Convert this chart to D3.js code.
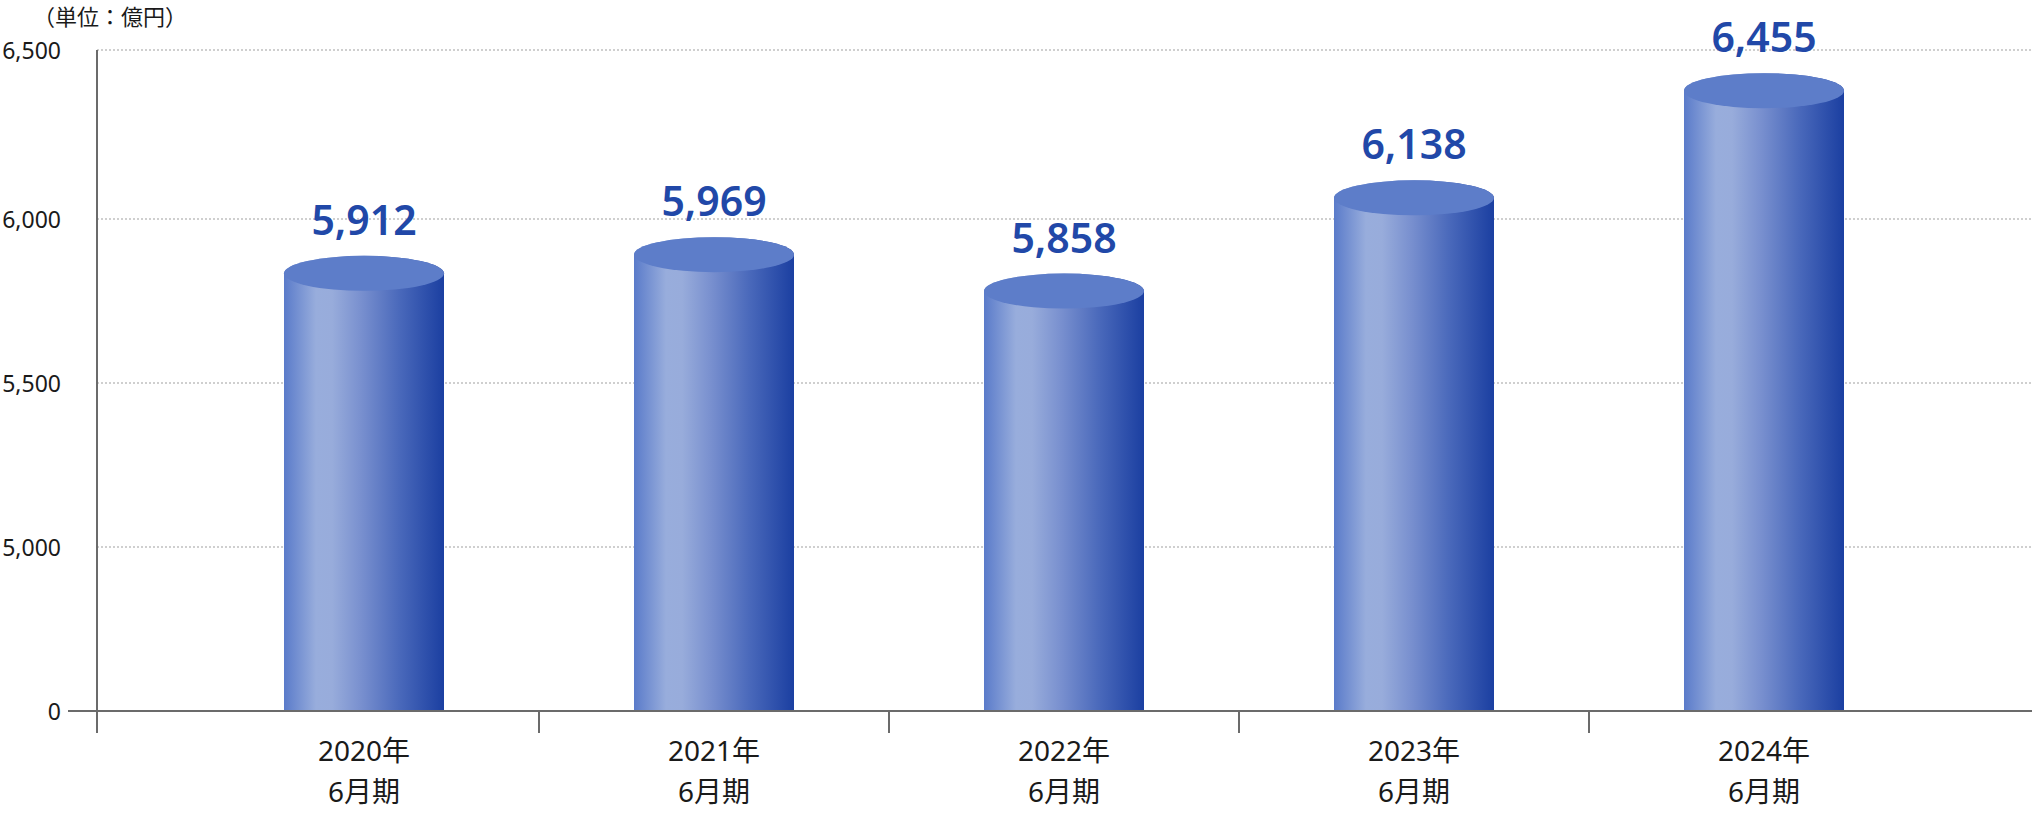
<!DOCTYPE html>
<html>
<head>
<meta charset="utf-8">
<script src="https://cdn.jsdelivr.net/npm/d3@7"></script>
<style>
  html, body { margin: 0; padding: 0; background: #fff; }
  svg { display: block; }
  text { font-family: "Noto Sans", "Noto Sans CJK JP", sans-serif; }
</style>
</head>
<body>
<svg id="chart" width="2032" height="814"></svg>
<script>
// ---- data ----
const categories = ["2020年", "2021年", "2022年", "2023年", "2024年"];
const periodLabel = "6月期";
const values = [5912, 5969, 5858, 6138, 6455];
const yTicks = [0, 5000, 5500, 6000, 6500];
const gridTicks = [5000, 5500, 6000, 6500];
const unitLabel = "（単位：億円）";

// ---- layout ----
const W = 2032, H = 814;
const axisX = 97, baseY = 711, tickLen = 22;
const svg = d3.select("#chart");

// broken axis: 0 baseline, then 5,000 – 6,500
const y = d3.scaleLinear().domain([0, 5000, 6000, 6500]).range([baseY, 547, 219, 50]);
const x = d3.scaleBand().domain(categories).range([189, 1939]).paddingInner(190 / 350).paddingOuter(95 / 350);

// gradient for cylinder side
const defs = svg.append("defs");
const grad = defs.append("linearGradient").attr("id", "side").attr("x1", "0%").attr("x2", "100%").attr("y1", "0%").attr("y2", "0%");
[["0%", "#5a7bca"], ["20%", "#98addc"], ["30%", "#98acdb"], ["48%", "#7990cf"], ["72%", "#4a69bb"], ["100%", "#1b3fa1"]]
  .forEach(([o, c]) => grad.append("stop").attr("offset", o).attr("stop-color", c));

// gridlines
svg.append("g").selectAll("line").data(gridTicks).join("line")
  .attr("x1", axisX).attr("x2", W)
  .attr("y1", d => y(d)).attr("y2", d => y(d))
  .attr("stroke", "#cfcfcf").attr("stroke-width", 2).attr("stroke-dasharray", "2,2");

// y axis labels
const yAxis = d3.axisLeft(y).tickValues(yTicks).tickSize(0).tickPadding(0).tickFormat(d3.format(","));
const gy = svg.append("g").attr("transform", `translate(61,0)`).call(yAxis);
gy.select(".domain").remove();
gy.selectAll("text").attr("font-size", 23).attr("fill", "#1a1a1a").attr("dy", "0.35em")
  .attr("font-family", "'Noto Sans', 'Noto Sans CJK JP', sans-serif");

// bars (cylinders)
const rx = x.bandwidth() / 2, ry = 17.5, capOffset = 8;
const bars = svg.append("g").selectAll("g").data(categories.map((c, i) => ({ c, v: values[i] }))).join("g");
bars.append("rect")
  .attr("x", d => x(d.c)).attr("width", x.bandwidth())
  .attr("y", d => y(d.v) + capOffset + ry)
  .attr("height", d => baseY - (y(d.v) + capOffset + ry))
  .attr("fill", "url(#side)");
bars.append("path")
  .attr("d", d => {
    const cx = x(d.c) + rx, cy = y(d.v) + capOffset + ry;
    return `M${cx - rx},${cy} A${rx},${ry} 0 0 0 ${cx + rx},${cy} L${cx + rx},${cy} A${rx},${ry} 0 0 0 ${cx - rx},${cy} Z`;
  })
  .attr("fill", "url(#side)");
bars.append("ellipse")
  .attr("cx", d => x(d.c) + rx).attr("cy", d => y(d.v) + capOffset + ry)
  .attr("rx", rx).attr("ry", ry).attr("fill", "#5d7dc9");
bars.append("text")
  .attr("x", d => x(d.c) + rx).attr("y", d => y(d.v) + capOffset - 21)
  .attr("text-anchor", "middle").attr("font-size", 41).attr("font-weight", 600)
  .attr("fill", "#2148a8").text(d => d3.format(",")(d.v));

// axes lines
svg.append("line").attr("x1", axisX).attr("x2", axisX).attr("y1", y(6500)).attr("y2", baseY + tickLen)
  .attr("stroke", "#6b6b6b").attr("stroke-width", 2);
svg.append("line").attr("x1", 68).attr("x2", W).attr("y1", baseY).attr("y2", baseY)
  .attr("stroke", "#6b6b6b").attr("stroke-width", 2);
// category separators
const seps = categories.slice(1).map(c => x(c) - x.step() * x.paddingInner() / 2);
svg.append("g").selectAll("line").data(seps).join("line")
  .attr("x1", d => d).attr("x2", d => d).attr("y1", baseY).attr("y2", baseY + tickLen)
  .attr("stroke", "#6b6b6b").attr("stroke-width", 2);

// category labels
const cl = svg.append("g").selectAll("g").data(categories).join("g")
  .attr("transform", d => `translate(${x(d) + rx},0)`);
cl.append("text").attr("y", 761).attr("text-anchor", "middle").attr("font-size", 28).attr("fill", "#1a1a1a").text(d => d);
cl.append("text").attr("y", 802).attr("text-anchor", "middle").attr("font-size", 28).attr("fill", "#1a1a1a").text(periodLabel);

// unit label
svg.append("text").attr("x", 33).attr("y", 25).attr("font-size", 22)
  .attr("font-family", "'Noto Sans CJK JP', sans-serif").attr("fill", "#1a1a1a").text(unitLabel);
</script>
</body>
</html>
